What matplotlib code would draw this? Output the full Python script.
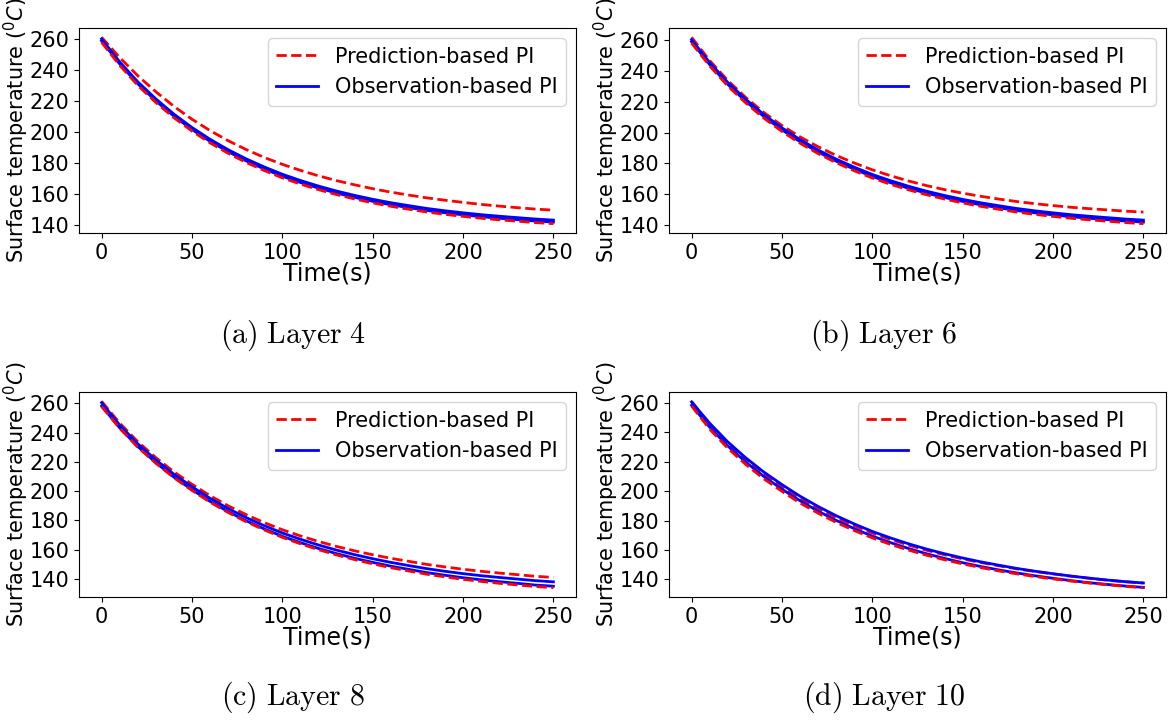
import matplotlib
matplotlib.use("Agg")
import matplotlib.pyplot as plt

plt.rcParams['font.family'] = ['DejaVu Sans']
plt.rcParams['mathtext.fontset'] = 'dejavusans'

# time points (s)
time_s = [0, 10, 20, 30, 40, 50, 60, 70, 80, 90, 100, 110, 120, 130, 140, 150,
          160, 170, 180, 190, 200, 210, 220, 230, 240, 250]

# Layer 4
a_pred_hi = [261.0, 248.0, 236.3, 226.0, 216.6, 208.3, 201.0, 194.5, 188.8, 183.7, 179.3, 175.4, 171.9,
             168.8, 166.1, 163.6, 161.4, 159.5, 157.7, 156.2, 154.8, 153.5, 152.4, 151.4, 150.5, 149.8]
a_obs_hi = [260.0, 245.2, 232.4, 221.4, 211.6, 203.0, 195.4, 188.7, 182.8, 177.6, 172.9, 168.9, 165.3,
            162.1, 159.3, 156.8, 154.6, 152.7, 150.9, 149.4, 148.1, 146.9, 145.9, 145.0, 144.1, 143.4]
a_obs_lo = [258.7, 243.9, 231.1, 220.1, 210.3, 201.7, 194.1, 187.4, 181.5, 176.3, 171.6, 167.6, 164.0,
            160.8, 158.0, 155.5, 153.3, 151.4, 149.6, 148.1, 146.8, 145.6, 144.6, 143.7, 142.8, 142.1]
a_pred_lo = [257.8, 243.0, 230.1, 219.1, 209.3, 200.7, 193.1, 186.4, 180.5, 175.3, 170.6, 166.6, 163.0,
             159.8, 157.0, 154.5, 152.3, 150.4, 148.6, 147.1, 145.8, 144.6, 143.6, 142.7, 141.8, 141.1]

# Layer 6
b_pred_hi = [261.5, 246.5, 233.6, 222.6, 212.9, 204.5, 197.2, 190.8, 185.2, 180.3, 175.9, 172.1, 168.7,
             165.7, 163.1, 160.8, 158.8, 157.0, 155.4, 154.0, 152.8, 151.7, 150.8, 150.0, 149.2, 148.6]
b_obs_hi = [260.0, 245.2, 232.4, 221.4, 211.6, 203.0, 195.4, 188.7, 182.8, 177.6, 172.9, 168.9, 165.3,
            162.1, 159.3, 156.8, 154.6, 152.7, 150.9, 149.4, 148.1, 146.9, 145.9, 145.0, 144.1, 143.4]
b_obs_lo = [258.7, 243.9, 231.1, 220.1, 210.3, 201.7, 194.1, 187.4, 181.5, 176.3, 171.6, 167.6, 164.0,
            160.8, 158.0, 155.5, 153.3, 151.4, 149.6, 148.1, 146.8, 145.6, 144.6, 143.7, 142.8, 142.1]
b_pred_lo = [257.8, 243.0, 230.1, 219.1, 209.3, 200.7, 193.1, 186.4, 180.5, 175.3, 170.6, 166.6, 163.0,
             159.8, 157.0, 154.5, 152.3, 150.4, 148.6, 147.1, 145.8, 144.6, 143.6, 142.7, 141.8, 141.1]

# Layer 8
c_pred_hi = [261.4, 246.5, 233.8, 222.9, 213.2, 204.7, 196.9, 190.0, 183.9, 178.5, 173.6, 169.4, 165.6,
             162.2, 159.2, 156.5, 154.1, 152.0, 149.9, 148.2, 146.6, 145.2, 144.0, 142.9, 141.8, 141.0]
c_obs_hi = [260.5, 245.2, 232.4, 221.4, 211.6, 203.0, 195.1, 188.1, 181.9, 176.4, 171.4, 167.1, 163.2,
            159.7, 156.6, 153.8, 151.3, 149.1, 147.0, 145.2, 143.6, 142.2, 141.0, 139.9, 138.8, 138.0]
c_obs_lo = [258.2, 243.3, 230.5, 219.5, 209.6, 201.0, 193.0, 186.0, 179.7, 174.2, 169.1, 164.8, 160.8,
            157.3, 154.1, 151.3, 148.7, 146.5, 144.3, 142.5, 140.8, 139.4, 138.1, 137.0, 135.8, 135.0]
c_pred_lo = [257.9, 243.0, 230.1, 219.1, 209.2, 200.5, 192.5, 185.4, 179.1, 173.5, 168.4, 164.0, 160.0,
             156.4, 153.2, 150.3, 147.7, 145.4, 143.2, 141.4, 139.7, 138.3, 137.0, 135.9, 134.8, 134.0]

# Layer 10
d_pred_hi = [261.2, 245.2, 232.1, 221.1, 211.4, 202.9, 195.1, 188.2, 182.0, 176.5, 171.5, 167.2, 163.3,
             159.8, 156.7, 153.9, 151.4, 149.2, 147.1, 145.3, 143.7, 142.1, 140.7, 139.4, 138.3, 137.5]
d_obs_hi = [260.8, 246.3, 233.6, 222.7, 213.0, 204.5, 196.6, 189.6, 183.3, 177.7, 172.6, 168.2, 164.2,
            160.6, 157.4, 154.5, 151.9, 149.6, 147.4, 145.5, 143.8, 142.2, 140.8, 139.5, 138.4, 137.5]
d_obs_lo = [258.5, 243.6, 230.8, 219.8, 210.0, 201.4, 193.5, 186.4, 180.1, 174.5, 169.4, 165.0, 161.0,
            157.4, 154.2, 151.3, 148.7, 146.4, 144.3, 142.4, 140.7, 139.1, 137.7, 136.5, 135.4, 134.5]
d_pred_lo = [258.0, 242.3, 229.3, 218.2, 208.4, 199.9, 192.0, 185.0, 178.8, 173.2, 168.2, 163.8, 159.9,
             156.4, 153.3, 150.5, 148.0, 145.7, 143.7, 141.9, 140.3, 138.8, 137.5, 136.3, 135.2, 134.3]

captions = ["(a) Layer 4", "(b) Layer 6", "(c) Layer 8", "(d) Layer 10"]
panels = [
    (a_pred_hi, a_pred_lo, a_obs_hi, a_obs_lo),
    (b_pred_hi, b_pred_lo, b_obs_hi, b_obs_lo),
    (c_pred_hi, c_pred_lo, c_obs_hi, c_obs_lo),
    (d_pred_hi, d_pred_lo, d_obs_hi, d_obs_lo),
]

W, H = 1172, 721
fig = plt.figure(figsize=(W / 100, H / 100), dpi=100)

# axes boxes in pixels: left, top, right, bottom
boxes = [
    (79, 28, 576, 233),
    (669, 28, 1166, 233),
    (79, 392, 576, 597),
    (669, 392, 1166, 597),
]
caption_pos = [(293, 335), (884, 335), (293, 697), (884, 697)]

fs = 15
for cap, (ph, pl, oh, ol), (l, t, r, b), (cx, cy) in zip(captions, panels, boxes, caption_pos):
    ax = fig.add_axes([l / W, 1 - b / H, (r - l) / W, (b - t) / H])
    ax.plot(time_s, ph, color='red', linestyle='--', linewidth=2, label='Prediction-based PI')
    ax.plot(time_s, oh, color='blue', linestyle='-', linewidth=2, label='Observation-based PI')
    ax.plot(time_s, ol, color='blue', linestyle='-', linewidth=2)
    ax.plot(time_s, pl, color='red', linestyle='--', linewidth=2)
    ax.set_xticks([0, 50, 100, 150, 200, 250])
    ax.set_yticks([140, 160, 180, 200, 220, 240, 260])
    ax.tick_params(labelsize=fs)
    ax.set_xlabel('Time(s)', fontsize=17, labelpad=-1)
    ax.set_ylabel(r'Surface temperature ($^0C$)', fontsize=fs, labelpad=-1)
    ax.legend(loc='upper right', fontsize=fs)
    fig.text(cx / W, 1 - cy / H, r'$\mathrm{' + cap.replace(' ', r'\ ') + '}$',
             ha='center', va='center', fontsize=21.5, math_fontfamily='cm')

fig.savefig('out.png', dpi=100)
